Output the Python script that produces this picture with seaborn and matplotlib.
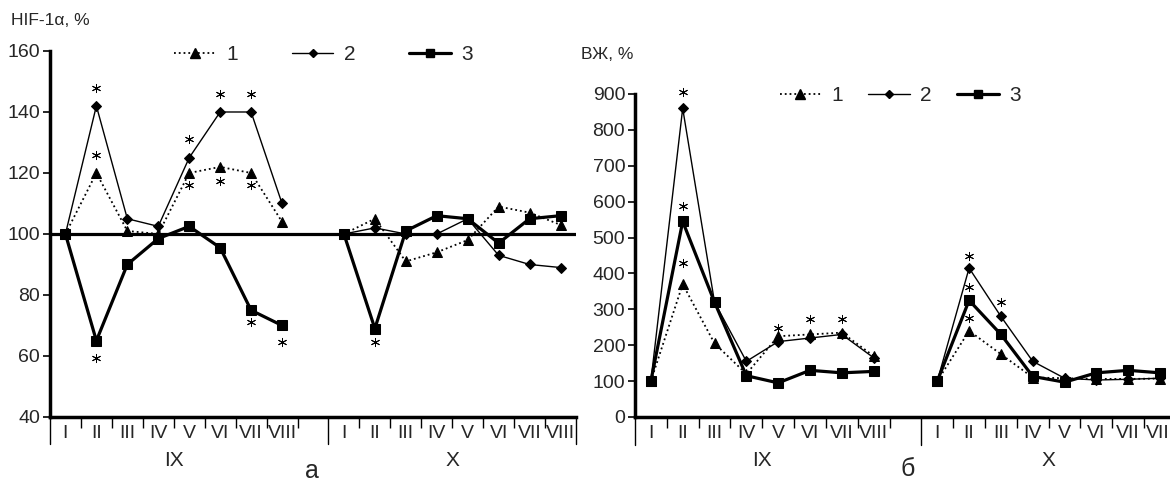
import numpy as np
import pandas as pd
import matplotlib
matplotlib.use("Agg")
import matplotlib.pyplot as plt
import matplotlib.transforms as mtransforms
import seaborn as sns

# stages inside each month group
stages = ["I", "II", "III", "IV", "V", "VI", "VII", "VIII"]
groups = ["IX", "X"]
series_names = ["1", "2", "3"]

# panel a: HIF-1alpha, %
hif_1_ix = [100, 120, 101, 100, 120, 122, 120, 104]
hif_2_ix = [100, 142, 105, 102.5, 125, 140, 140, 110]
hif_3_ix = [100, 65, 90, 98.5, 102.5, 95.5, 75, 70]
hif_1_x = [100, 105, 91, 94, 98, 109, 107, 103]
hif_2_x = [100, 102, 100, 100, 105, 93, 90, 89]
hif_3_x = [100, 69, 101, 106, 105, 97, 105, 106]

# panel b: ВЖ, %
vzh_1_ix = [100, 370, 205, 120, 225, 230, 235, 170]
vzh_2_ix = [100, 860, 320, 155, 210, 220, 230, 165]
vzh_3_ix = [100, 545, 320, 115, 95, 130, 123, 127]
vzh_1_x = [100, 240, 175, 110, 108, 106, 106, 107]
vzh_2_x = [100, 415, 280, 155, 108, 103, 105, 108]
vzh_3_x = [100, 325, 230, 113, 97, 123, 130, 123]

# significance marks (*): group, stage index, value
hif_star_group = ["IX", "IX", "IX", "IX", "IX", "IX", "IX", "IX", "IX", "IX", "IX", "X"]
hif_star_stage = [1, 1, 1, 4, 4, 5, 5, 6, 6, 6, 7, 1]
hif_star_value = [148, 126, 59.5, 131, 116, 146, 117.5, 146, 116, 71, 64.5, 64.5]

vzh_star_group = ["IX", "IX", "IX", "IX", "IX", "IX", "X", "X", "X", "X"]
vzh_star_stage = [1, 1, 1, 4, 5, 6, 1, 1, 1, 2]
vzh_star_value = [905, 587, 430, 249, 273, 273, 449, 363, 275, 321]

GROUP_OFFSET = {"IX": 0.5, "X": 9.5}


def make_frame(values):
    rows = []
    for name, (ix_vals, x_vals) in zip(series_names, values):
        for g, vals in zip(groups, [ix_vals, x_vals]):
            for i, v in enumerate(vals):
                rows.append({"series": name, "group": g, "stage": stages[i],
                             "pos": i + GROUP_OFFSET[g], "value": v})
    return pd.DataFrame(rows)


df_a = make_frame([(hif_1_ix, hif_1_x), (hif_2_ix, hif_2_x), (hif_3_ix, hif_3_x)])
df_b = make_frame([(vzh_1_ix, vzh_1_x), (vzh_2_ix, vzh_2_x), (vzh_3_ix, vzh_3_x)])

styles = {
    "1": dict(ls=":", lw=1.3, marker="^", ms=7.5),
    "2": dict(ls="-", lw=1.0, marker="D", ms=5),
    "3": dict(ls="-", lw=2.3, marker="s", ms=7),
}

sns.set_style("ticks")
plt.rcParams["font.family"] = ["Liberation Sans", "DejaVu Sans"]

fig = plt.figure(figsize=(11.7, 4.82), dpi=100)
ax_a = fig.add_axes([0.0427, 0.1349, 0.4496, 0.7593])
ax_b = fig.add_axes([0.5427, 0.1349, 0.4624, 0.6701])


def draw_panel(ax, df, star_group, star_stage, star_value, ylim, yticks,
               long_len, legend_pos, colspace):
    handles = []
    for name in series_names:
        sub = df[df["series"] == name]
        st = styles[name]
        sns.lineplot(data=sub, x="pos", y="value", units="group", estimator=None,
                     color="k", linestyle=st["ls"], linewidth=st["lw"],
                     marker=st["marker"], markersize=st["ms"],
                     markeredgecolor="k", markerfacecolor="k",
                     ax=ax, legend=False)
        h, = ax.plot([], [], color="k", ls=st["ls"], lw=st["lw"],
                     marker=st["marker"], ms=st["ms"] - 1, mec="k", mfc="k")
        handles.append(h)

    sx = [s + GROUP_OFFSET[g] for g, s in zip(star_group, star_stage)]
    ax.plot(sx, star_value, ls="none", marker=(6, 2, 0), ms=6.5, mec="k",
            mew=0.7, clip_on=False)

    ax.set_xlim(0, 17)
    ax.set_ylim(*ylim)
    ax.set_yticks(yticks)
    centers = [i + GROUP_OFFSET[g] for g in groups for i in range(len(stages))]
    ax.set_xticks(centers)
    ax.set_xticklabels(stages * 2)
    ax.tick_params(axis="x", length=0, pad=6, labelsize=14)
    ax.set_xticks([1, 2, 3, 4, 5, 6, 7, 8, 10, 11, 12, 13, 14, 15, 16], minor=True)
    ax.tick_params(axis="x", which="minor", length=8, width=1, color="k")
    ax.tick_params(axis="y", length=5, width=1.2, labelsize=14, pad=2, color="k")
    for xb in [0, 9, 17]:
        ax.plot([xb, xb], [0, -long_len], color="k", lw=1,
                transform=ax.get_xaxis_transform(), clip_on=False)
    trans = mtransforms.blended_transform_factory(ax.transData, fig.transFigure)
    for g in groups:
        ax.text(GROUP_OFFSET[g] + 3.5, 1 - 461 / 482, g, transform=trans,
                ha="center", va="center", fontsize=15)

    sns.despine(ax=ax)
    for side in ["left", "bottom"]:
        ax.spines[side].set_linewidth(2.5)
        ax.spines[side].set_color("k")
    ax.set_xlabel("")
    ax.set_ylabel("")
    ax.legend(handles, series_names, loc="center", bbox_to_anchor=legend_pos,
              ncol=3, frameon=False, fontsize=15, handlelength=2.0,
              columnspacing=colspace, handletextpad=0.5)


draw_panel(ax_a, df_a, hif_star_group, hif_star_stage, hif_star_value,
           (40, 160), range(40, 161, 20), 0.074, (0.52, 0.99), 2.6)
ax_a.axhline(100, color="k", lw=2.3, zorder=1)

draw_panel(ax_b, df_b, vzh_star_group, vzh_star_stage, vzh_star_value,
           (0, 900), range(0, 901, 100), 0.087, (0.49, 0.994), 1.2)

fig.text(0.009, 0.958, "HIF-1α, %", fontsize=12.5, va="center", ha="left")
fig.text(0.497, 0.886, "ВЖ, %", fontsize=12.5, va="center", ha="left")
fig.text(0.267, 1 - 471 / 482, "а", fontsize=18, ha="center", va="center")
fig.text(0.776, 1 - 469 / 482, "б", fontsize=18, ha="center", va="center")

fig.savefig("out.png", dpi=100)
